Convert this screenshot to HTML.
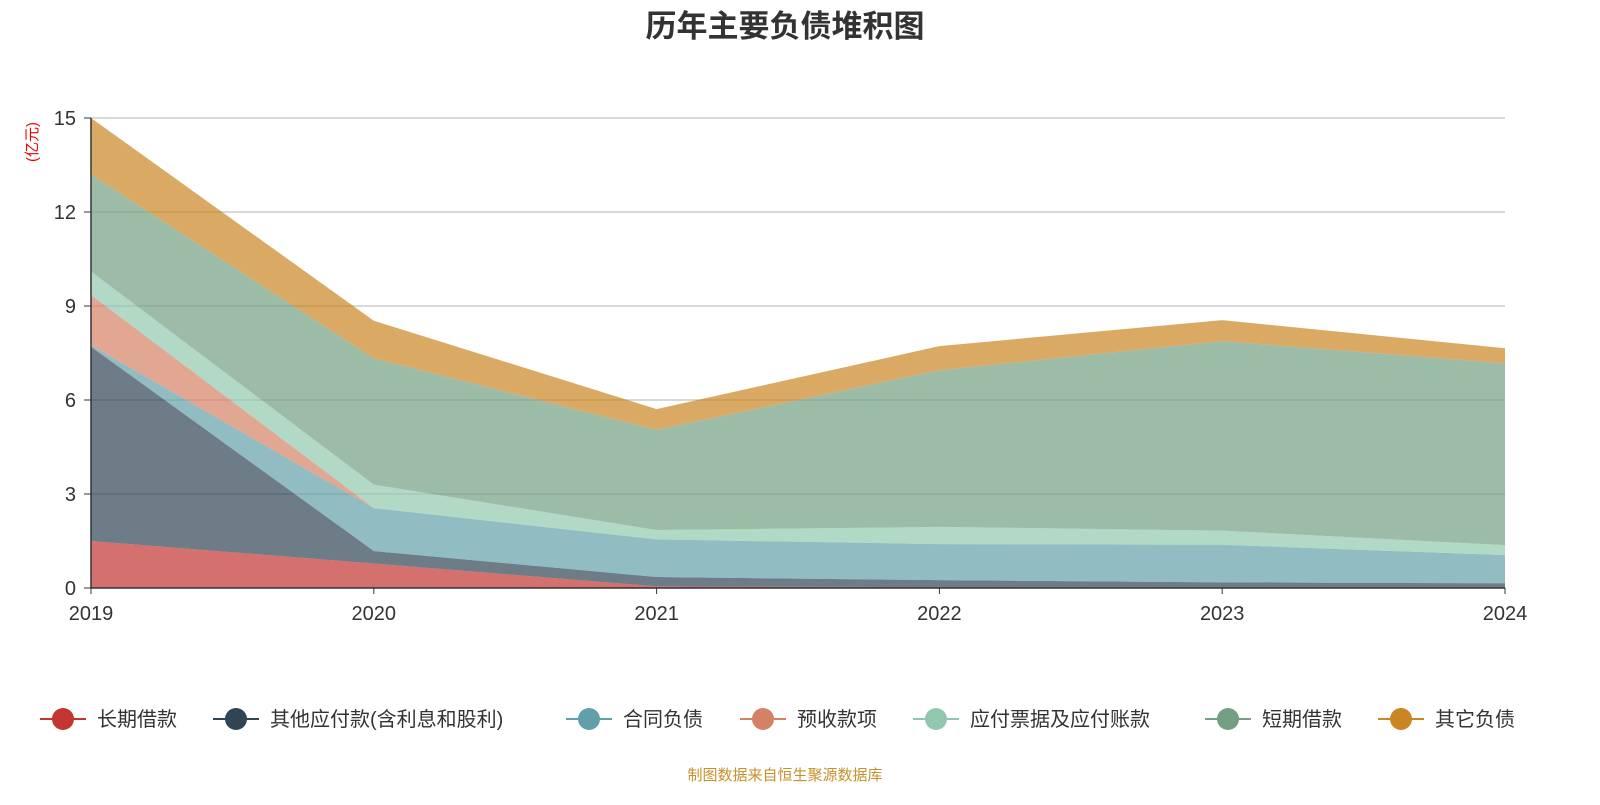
<!DOCTYPE html>
<html><head><meta charset="utf-8"><style>
body{margin:0;background:#fff;font-family:"Liberation Sans","Noto Sans CJK SC",sans-serif;}
svg text{font-family:"Liberation Sans","Noto Sans CJK SC",sans-serif;}
</style></head><body>
<svg id="c" width="1600" height="800">
<text x="785" y="37" text-anchor="middle" font-size="31" font-weight="bold" fill="#333">历年主要负债堆积图</text>
<text transform="translate(37,142) rotate(-90)" text-anchor="middle" font-size="15" fill="#e00">(亿元)</text>
<g id="grid"></g>
<g id="areas"></g>
<g id="axes"></g>
<g id="legend"></g>
<text x="785" y="780" text-anchor="middle" font-size="15" fill="#c8902a">制图数据来自恒生聚源数据库</text>
</svg>
<script>
const years=["2019","2020","2021","2022","2023","2024"];
const seriesNames=["长期借款","其他应付款(含利息和股利)","合同负债","预收款项","应付票据及应付账款","短期借款","其它负债"];
const longLoan=[1.5,0.78,0.05,0.03,0.02,0.02];
const otherPayable=[6.2,0.4,0.3,0.22,0.16,0.13];
const contractLiab=[0.05,1.37,1.2,1.15,1.2,0.9];
const advanceRecv=[1.6,0,0,0,0,0];
const notesPayable=[0.75,0.75,0.3,0.55,0.45,0.32];
const shortLoan=[3.1,4.03,3.2,5.0,6.05,5.8];
const otherLiab=[1.8,1.2,0.66,0.77,0.67,0.48];
const yTicks=[0,3,6,9,12,15];
const colors=["#c23531","#2f4554","#61a0a8","#d48265","#91c7ae","#749f83","#ca8622"];
const NS="http://www.w3.org/2000/svg";
const X0=91,X1=1505,Y0=588,Y1=118,YMAX=15;
const xs=i=>X0+(X1-X0)*i/(years.length-1);
const ys=v=>Y0-(Y0-Y1)*v/YMAX;
function mk(tag,attrs,parent){const e=document.createElementNS(NS,tag);for(const k in attrs)e.setAttribute(k,attrs[k]);parent.appendChild(e);return e;}
const grid=document.getElementById('grid'),areas=document.getElementById('areas'),axes=document.getElementById('axes'),legend=document.getElementById('legend');
yTicks.forEach(t=>{
 if(t>0){const l=mk('line',{x1:X0,x2:X1,y1:ys(t),y2:ys(t),stroke:'#ccc','stroke-width':1.5},grid);
 }
 const tx=mk('text',{x:76,y:ys(t)+7,'text-anchor':'end','font-size':20,fill:'#333'},axes);tx.textContent=t;
 
 const tk=mk('line',{x1:84,x2:X0,y1:ys(t),y2:ys(t),stroke:'#333'},axes);
 
});
const all=[longLoan,otherPayable,contractLiab,advanceRecv,notesPayable,shortLoan,otherLiab];
let base=years.map(()=>0);
all.forEach((s,k)=>{
 const top=base.map((b,i)=>b+s[i]);
 let pts=top.map((v,i)=>xs(i)+','+ys(v));
 for(let i=years.length-1;i>=0;i--)pts.push(xs(i)+','+ys(base[i]));
 const p=mk('polygon',{points:pts.join(' '),fill:colors[k],'fill-opacity':0.7},areas);
 
 base=top;
});
mk('line',{x1:X0,x2:X0,y1:Y1,y2:Y0,stroke:'#333','stroke-width':1.5},axes);
mk('line',{x1:X0,x2:X1,y1:Y0,y2:Y0,stroke:'#333','stroke-width':1.5},axes);
years.forEach((y,i)=>{
 mk('line',{x1:xs(i),x2:xs(i),y1:Y0,y2:Y0+6,stroke:'#333'},axes);
 const t=mk('text',{x:xs(i),y:620,'text-anchor':'middle','font-size':20,fill:'#333'},axes);t.textContent=y;
 
});
const lx=[40,213,566,740,913,1205,1378];
seriesNames.forEach((n,k)=>{
 const g=mk('g',{},legend);
 
 mk('line',{x1:lx[k],x2:lx[k]+46,y1:719,y2:719,stroke:colors[k],'stroke-width':2},g);
 mk('circle',{cx:lx[k]+23,cy:719,r:11,fill:colors[k]},g);
 const t=mk('text',{x:lx[k]+57,y:726,'font-size':20,fill:'#333'},g);t.textContent=n;
});
</script>
</body></html>
